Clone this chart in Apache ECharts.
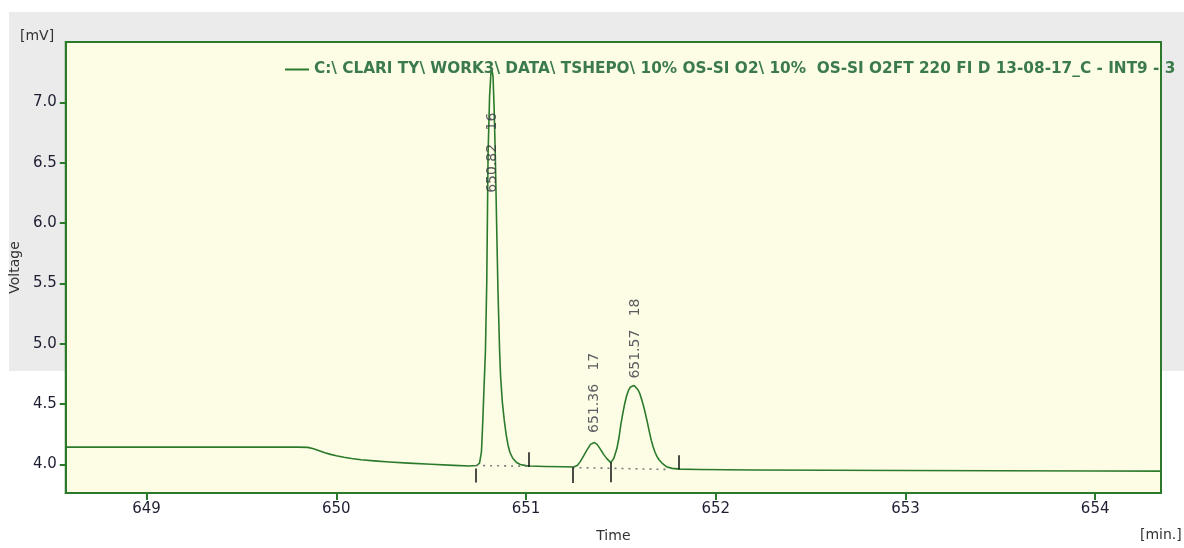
<!DOCTYPE html>
<html>
<head>
<meta charset="utf-8">
<script src="https://cdn.jsdelivr.net/npm/echarts@6/dist/echarts.min.js"></script>
<style>
  html, body { margin: 0; padding: 0; background: #ffffff; }
  #chart { width: 1184px; height: 548px; }
</style>
</head>
<body>
<div id="chart"></div>
<script>
// Chromatogram trace: retention time [min.] and detector signal [mV]
const traceName = 'C:\\ CLARI TY\\ WORK3\\ DATA\\ TSHEPO\\ 10% OS-SI O2\\ 10%  OS-SI O2FT 220 FI D 13-08-17_C - INT9 - 3';

const timeMin = [
  648.574, 649.0, 649.5, 649.80, 649.85, 649.88, 649.91, 649.94, 649.97, 650.00,
  650.04, 650.08, 650.13, 650.20, 650.28, 650.38, 650.50, 650.62, 650.70, 650.74,
  650.755, 650.765, 650.772, 650.779, 650.786, 650.793, 650.800, 650.808, 650.815, 650.820,
  650.826, 650.832, 650.838, 650.845, 650.852, 650.861, 650.866, 650.875, 650.885, 650.895,
  650.905, 650.915, 650.930, 650.950, 650.970, 651.000, 651.020, 651.100, 651.200, 651.250,
  651.270, 651.285, 651.300, 651.320, 651.340, 651.360, 651.375, 651.390, 651.410, 651.426,
  651.447, 651.463, 651.479, 651.490, 651.500, 651.510, 651.520, 651.530, 651.540, 651.550,
  651.560, 651.570, 651.580, 651.590, 651.600, 651.610, 651.620, 651.630, 651.640, 651.650,
  651.660, 651.670, 651.680, 651.690, 651.700, 651.720, 651.740, 651.770, 651.810, 651.917,
  652.200, 652.600, 653.000, 653.500, 654.000, 654.347
];
const voltage = [
  4.142, 4.142, 4.142, 4.142, 4.140, 4.128, 4.112, 4.096, 4.082, 4.070,
  4.058, 4.048, 4.038, 4.028, 4.019, 4.010, 4.000, 3.991, 3.986, 3.990,
  4.010, 4.100, 4.350, 4.650, 4.930, 5.500, 6.570, 7.050, 7.240, 7.270,
  7.220, 6.950, 6.570, 6.000, 5.450, 4.930, 4.730, 4.520, 4.370, 4.250,
  4.160, 4.100, 4.050, 4.015, 3.998, 3.989, 3.986, 3.982, 3.979, 3.977,
  3.990, 4.020, 4.060, 4.115, 4.165, 4.180, 4.165, 4.130, 4.080, 4.047,
  4.014, 4.050, 4.130, 4.220, 4.330, 4.420, 4.500, 4.566, 4.612, 4.640,
  4.652, 4.653, 4.640, 4.618, 4.585, 4.535, 4.480, 4.415, 4.345, 4.270,
  4.200, 4.145, 4.100, 4.065, 4.040, 4.005, 3.980, 3.966, 3.960, 3.957,
  3.953, 3.950, 3.948, 3.946, 3.944, 3.943
];

// Peak annotations: "retention time  peak number"
const peakTexts = ['650.82   16', '651.36   17', '651.57   18'];
const peakLabelTime = [650.82, 651.36, 651.575];
const peakLabelVolt = [6.25, 4.26, 4.71];

// Integration baselines (start/end points)
const baseStartTime = [650.737, 651.245];
const baseStartVolt = [3.990, 3.973];
const baseEndTime = [651.017, 651.760];
const baseEndVolt = [3.984, 3.957];

// Peak start/end markers
const markerTime = [650.737, 651.017, 651.245, 651.447, 651.803];
const markerTop = [3.965, 4.100, 3.975, 4.016, 4.074];
const markerBottom = [3.850, 3.978, 3.844, 3.852, 3.959];

// Axis tick values
const xTicks = [649, 650, 651, 652, 653, 654];
const yTicks = [4.0, 4.5, 5.0, 5.5, 6.0, 6.5, 7.0];

const FONT = 'DejaVu Sans';
const GREEN = '#2b7a2b';

const trace = timeMin.map((t, i) => [t, voltage[i]]);
const labelPoints = peakTexts.map((txt, i) => ({ value: [peakLabelTime[i], peakLabelVolt[i]], label: { formatter: txt } }));

const markLines = [];
for (let i = 0; i < baseStartTime.length; i++) {
  markLines.push([
    { coord: [baseStartTime[i], baseStartVolt[i]], lineStyle: { color: '#7a7a7a', width: 1.6, type: [2, 5] } },
    { coord: [baseEndTime[i], baseEndVolt[i]] }
  ]);
}
for (let i = 0; i < markerTime.length; i++) {
  markLines.push([
    { coord: [markerTime[i], markerTop[i]], lineStyle: { color: '#111111', width: 1.5, type: 'solid' } },
    { coord: [markerTime[i], markerBottom[i]] }
  ]);
}

const chart = echarts.init(document.getElementById('chart'), null, { renderer: 'canvas' });
chart.setOption({
  animation: false,
  backgroundColor: '#ffffff',
  graphic: [
    { type: 'rect', z: -10, silent: true, shape: { x: 9, y: 12, width: 1175, height: 359 }, style: { fill: '#ebebeb' } },
    { type: 'text', left: 20, top: 29, style: { text: '[mV]', font: '14px "DejaVu Sans"', fill: '#333333' } },
    { type: 'text', left: 1140, top: 528, style: { text: '[min.]', font: '14px "DejaVu Sans"', fill: '#333333' } }
  ],
  grid: {
    left: 64, right: 23, top: 42, bottom: 50,
    show: true, backgroundColor: '#fdfde6', borderColor: GREEN, borderWidth: 2
  },
  legend: {
    data: [traceName],
    left: 280, top: 57,
    icon: 'rect', itemWidth: 24, itemHeight: 2, itemGap: 6,
    textStyle: { color: '#3b7a4a', fontSize: 15.3, fontWeight: 'bold', fontFamily: FONT }
  },
  xAxis: {
    type: 'value', min: 648.574, max: 654.347,
    name: 'Time', nameLocation: 'middle', nameGap: 36,
    nameTextStyle: { color: '#333333', fontSize: 14, fontFamily: FONT },
    axisLine: { show: true, lineStyle: { color: GREEN, width: 2 } },
    axisTick: { show: true, length: 7, customValues: xTicks, lineStyle: { color: GREEN, width: 2 } },
    axisLabel: { customValues: xTicks, margin: 9, color: '#1e1e33', fontSize: 15, fontFamily: FONT, formatter: v => String(Math.round(v)) },
    splitLine: { show: false }
  },
  yAxis: {
    type: 'value', min: 3.762, max: 7.5,
    name: 'Voltage', nameLocation: 'middle', nameGap: 40,
    nameTextStyle: { color: '#333333', fontSize: 14, fontFamily: FONT },
    axisLine: { show: true, lineStyle: { color: GREEN, width: 2 } },
    axisTick: { show: true, length: 6, customValues: yTicks, lineStyle: { color: GREEN, width: 2 } },
    axisLabel: { customValues: yTicks, margin: 9, color: '#1e1e33', fontSize: 15, fontFamily: FONT, formatter: v => v.toFixed(1) },
    splitLine: { show: false }
  },
  series: [
    {
      name: traceName,
      type: 'line',
      data: trace,
      showSymbol: false,
      smooth: false,
      lineStyle: { color: GREEN, width: 1.6, join: 'round' },
      itemStyle: { color: GREEN },
      markLine: { silent: true, symbol: 'none', label: { show: false }, data: markLines },
      z: 3
    },
    {
      name: 'peaks',
      type: 'scatter',
      data: labelPoints,
      symbolSize: 0,
      label: {
        show: true, position: [0, 0], rotate: 90, align: 'left', verticalAlign: 'middle',
        color: '#333340', fontSize: 14, fontFamily: FONT
      },
      z: 4
    }
  ]
});
</script>
</body>
</html>
